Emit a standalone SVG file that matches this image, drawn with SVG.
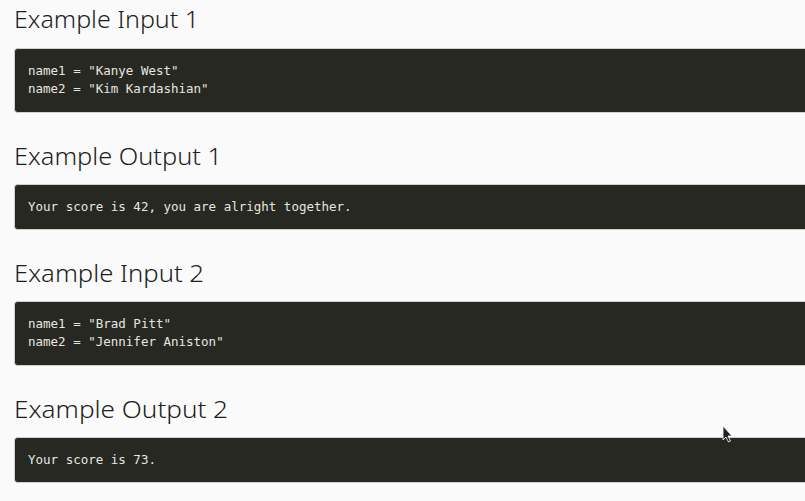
<svg xmlns="http://www.w3.org/2000/svg" width="805" height="501" viewBox="0 0 805 501">
<style>
.h{font-family:"Noto Sans","Open Sans",sans-serif;font-size:23.5px;fill:#1e1e1e;font-weight:300}
.code{font-family:"DejaVu Sans Mono",monospace;font-size:12.5px;fill:#e6e6e0}
.box{fill:#272822;stroke:#d0d0d0;stroke-width:1}
</style>
<rect width="805" height="501" fill="#fafafa"/>
<g id="input1">
<text class="h" x="14" y="28" textLength="185" lengthAdjust="spacingAndGlyphs">Example Input 1</text>
<rect class="box" x="14.5" y="48.5" width="800" height="64" rx="3"/>
<text class="code" x="28" y="75">name1 = "Kanye West"</text>
<text class="code" x="28" y="93">name2 = "Kim Kardashian"</text>
</g>
<g id="output1">
<text class="h" x="14" y="165" textLength="208" lengthAdjust="spacingAndGlyphs">Example Output 1</text>
<rect class="box" x="14.5" y="184.5" width="800" height="45" rx="3"/>
<text class="code" x="28" y="211">Your score is 42, you are alright together.</text>
</g>
<g id="input2">
<text class="h" x="14" y="282" textLength="190" lengthAdjust="spacingAndGlyphs">Example Input 2</text>
<rect class="box" x="14.5" y="301.5" width="800" height="64" rx="3"/>
<text class="code" x="28" y="328">name1 = "Brad Pitt"</text>
<text class="code" x="28" y="346">name2 = "Jennifer Aniston"</text>
</g>
<g id="output2">
<text class="h" x="14" y="418" textLength="214" lengthAdjust="spacingAndGlyphs">Example Output 2</text>
<rect class="box" x="14.5" y="437.5" width="800" height="45" rx="3"/>
<text class="code" x="28" y="464">Your score is 73.</text>
</g>
<path d="M723,426 L723,440 L726,437 L728.5,442 L730.5,441 L728,436 L732,436 Z" fill="#222" stroke="#fff" stroke-width="0.8"/>
</svg>
